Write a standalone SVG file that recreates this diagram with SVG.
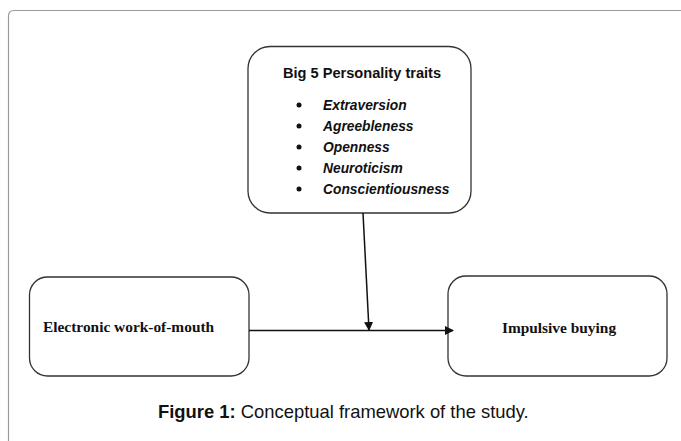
<svg xmlns="http://www.w3.org/2000/svg" width="681" height="441" viewBox="0 0 681 441">
<style>
.box{fill:#fff;stroke:#333;stroke-width:1.3}
.frame{fill:none;stroke:#9a9a9a;stroke-width:1.2}
.conn{stroke:#111;stroke-width:1.5;fill:none}
.sans{font-family:"Liberation Sans",Arial,sans-serif;fill:#111}
.serif{font-family:"Liberation Serif","Times New Roman",serif;font-weight:bold;font-size:15.4px;fill:#111}
.item{font-family:"Liberation Sans",Arial,sans-serif;font-weight:bold;font-style:italic;font-size:13.8px;fill:#111}
</style>
<defs>
<marker id="arr" markerWidth="10" markerHeight="10" refX="8" refY="5" orient="auto" markerUnits="userSpaceOnUse">
<path d="M0,0.5 L9,5 L0,9.5 Z" fill="#111"/>
</marker>
</defs>
<rect width="681" height="441" fill="#fff"/>
<path class="frame" d="M8.5,460 L8.5,16 Q8.5,10.5 14,10.5 L700,10.5"/>
<g id="traits">
<rect class="box" x="248" y="46.5" width="223" height="166.5" rx="22" ry="22"/>
<text class="sans" x="362" y="78" text-anchor="middle" font-weight="bold" font-size="14.6">Big 5 Personality traits</text>
<g fill="#111">
<circle cx="299" cy="105" r="2.5"/>
<circle cx="299" cy="126" r="2.5"/>
<circle cx="299" cy="147" r="2.5"/>
<circle cx="299" cy="168" r="2.5"/>
<circle cx="299" cy="189" r="2.5"/>
</g>
<text class="item" x="323" y="110">Extraversion</text>
<text class="item" x="323" y="131">Agreebleness</text>
<text class="item" x="323" y="152">Openness</text>
<text class="item" x="323" y="173">Neuroticism</text>
<text class="item" x="323" y="194">Conscientiousness</text>
</g>
<g id="ewom">
<rect class="box" x="29.5" y="277" width="219.5" height="99" rx="18" ry="18"/>
<text class="serif" x="43" y="332">Electronic work-of-mouth</text>
</g>
<g id="impulsive">
<rect class="box" x="448" y="276" width="219" height="100" rx="18" ry="18"/>
<text class="serif" x="559" y="333" text-anchor="middle">Impulsive buying</text>
</g>
<g id="connectors">
<line class="conn" x1="249" y1="330.5" x2="453" y2="330.5" marker-end="url(#arr)"/>
<line class="conn" x1="363" y1="213" x2="369" y2="330" marker-end="url(#arr)"/>
</g>
<text class="sans" x="158" y="418" font-size="18.4"><tspan font-weight="bold">Figure 1:</tspan> Conceptual framework of the study.</text>
</svg>
